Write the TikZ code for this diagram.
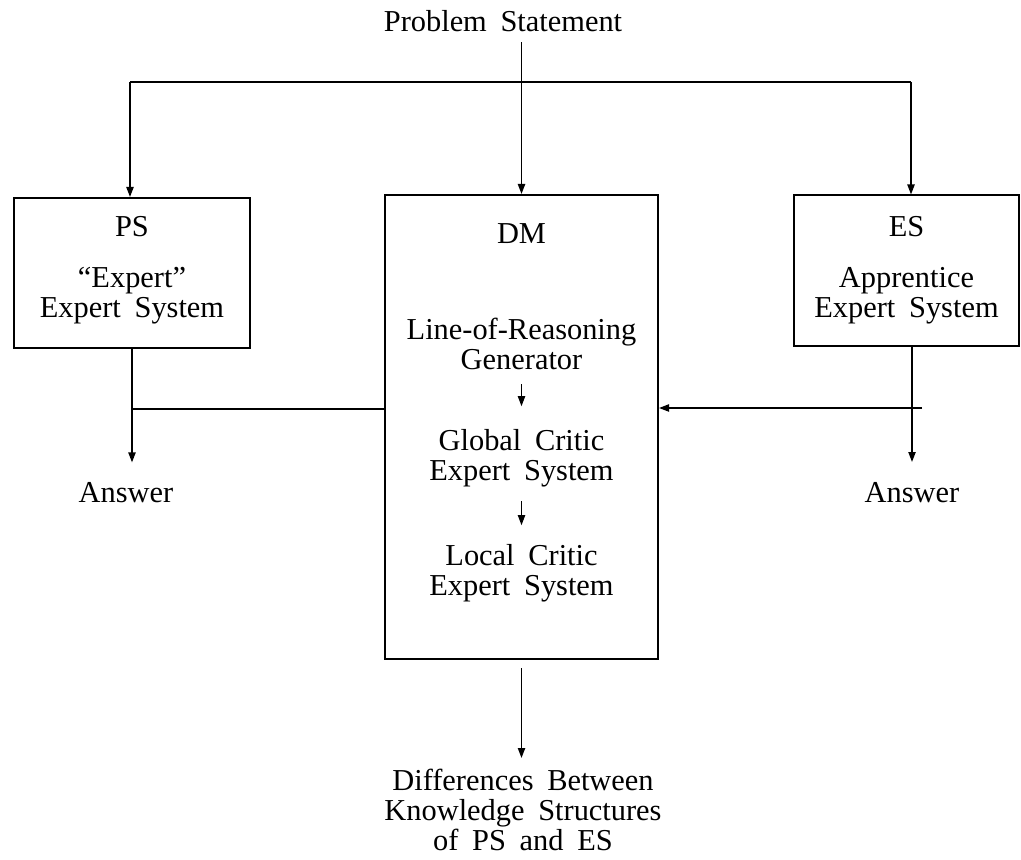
\documentclass[tikz,border=0pt]{standalone}
\usepackage{fontspec}
\setmainfont{Liberation Serif}[WordSpace=1.8]
\usetikzlibrary{arrows.meta,positioning}

\begin{document}
\begin{tikzpicture}[x=0.5pt,y=-0.5pt,
  box/.style={draw,line width=1pt,inner sep=0pt},
  txt/.style={align=center,inner sep=0pt,font=\fontsize{15.2}{15}\selectfont},
  arr/.style={-{Triangle[length=5pt,width=3.6pt]},line width=0.8pt},
  plain/.style={line width=1pt}
]
\useasboundingbox (0,0) rectangle (1021,860);
% boxes
\node[box,minimum width=118pt,minimum height=75pt] (ps) at (132,273) {};
\node[box,minimum width=136.5pt,minimum height=232pt] (dm) at (521.5,427) {};
\node[box,minimum width=112.5pt,minimum height=75.5pt] (es) at (906.5,271) {};
% texts
\node[txt] (prob) at (503,21) {Problem Statement};
\node[txt] (pstitle) at (132,227) {PS};
\node[txt] (psname) at (132,296) {``Expert''\\Expert System};
\node[txt] (dmtitle) at (521.5,234) {DM};
\node[txt] (lor) at (521.5,344) {Line-of-Reasoning\\Generator};
\node[txt] (gc) at (521.5,458) {Global Critic\\Expert System};
\node[txt] (lc) at (521.5,573) {Local Critic\\Expert System};
\node[txt] (estitle) at (906.5,227) {ES};
\node[txt] (esname) at (906.5,296) {Apprentice\\Expert System};
\node[txt] (ansl) at (126,493) {Answer};
\node[txt] (ansr) at (912,493) {Answer};
\node[txt] (diff) at (523,810) {Differences Between\\Knowledge Structures\\of PS and ES};
% problem statement distribution
\coordinate (tl) at (130,82);
\coordinate (tr) at (911,82);
\draw[plain] (tl) -- (tr);
\draw[arr] (dm.north |- prob.south) ++(0,10) -- (dm.north);
\draw[arr] (tl) -- (tl |- ps.north);
\draw[arr] (tr) -- (tr |- es.north);
% answers
\coordinate (jl) at (132,409);
\coordinate (jr) at (922,408);
\draw[arr,shorten >=10pt] (ps.south) -- (ps.south |- ansl.north);
\draw[plain] (jl) -- (jl -| dm.west);
\draw[arr,shorten >=10pt] (912,347) -- (912,482);
\draw[arr] (jr) -- (jr -| dm.east);
% inside DM
\draw[arr,line width=0.6pt] (lor.south) ++(0,14) -- ++(0,22);
\draw[arr,line width=0.6pt] (gc.south) ++(0,14) -- ++(0,24);
% result
\draw[arr] (dm.south) ++(0,8) -- ++(0,90);
\end{tikzpicture}
\end{document}
